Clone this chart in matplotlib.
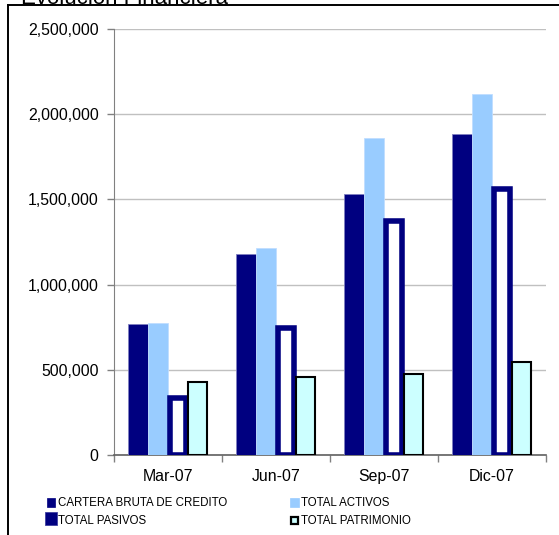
import numpy as np
import matplotlib
matplotlib.use('Agg')
import matplotlib.pyplot as plt
from matplotlib.patches import Rectangle
from matplotlib.lines import Line2D
from matplotlib.ticker import FuncFormatter, FixedLocator

plt.rcParams['font.family'] = ['Liberation Sans', 'DejaVu Sans']

# Data
periods = ['Mar-07', 'Jun-07', 'Sep-07', 'Dic-07']
cartera = [767000, 1178000, 1530000, 1882000]
activos = [775000, 1213000, 1859000, 2119000]
pasivos = [337000, 745000, 1373000, 1561000]
patrimonio = [428000, 458000, 474000, 546000]
series_names = ['CARTERA BRUTA DE CREDITO', 'TOTAL ACTIVOS',
                'TOTAL PASIVOS', 'TOTAL PATRIMONIO']
title = 'Evolución Financiera'

navy = '#000080'
light_blue = '#99CCFF'
light_cyan = '#CCFFFF'

W, H = 559, 535
fig = plt.figure(figsize=(W / 100, H / 100), dpi=100)

# outer chart frame and title
fig.add_artist(Line2D([8 / W, 8 / W], [0, 1 - 5 / H], color='black', lw=1.4,
                      transform=fig.transFigure))
fig.add_artist(Line2D([8 / W, 1], [1 - 5 / H, 1 - 5 / H], color='black', lw=1.4,
                      transform=fig.transFigure))
fig.text(21 / W, 1 - 3.5 / H, title, fontsize=16, va='baseline', ha='left')

ax = fig.add_axes([114 / W, 80 / H, 432 / W, 426 / H])

x = np.arange(len(periods))
bw = 0.185
ax.bar(x - 1.5 * bw, cartera, bw, color=navy, edgecolor='#8080C0', lw=0.6, zorder=3)
ax.bar(x - 0.5 * bw, activos, bw, color=light_blue, edgecolor='#C0DDFF', lw=0.6, zorder=3)
ax.bar(x + 0.5 * bw, pasivos, bw * 0.82, color='white', edgecolor=navy, lw=4.0, zorder=4)
ax.bar(x + 1.5 * bw, patrimonio, bw * 0.95, color=light_cyan, edgecolor='black', lw=1.5, zorder=5)

ax.set_xlim(-0.5, len(periods) - 0.5)
ax.set_ylim(0, 2500000)
ax.set_yticks(np.arange(0, 2500001, 500000))
ax.yaxis.set_major_formatter(FuncFormatter(lambda v, p: f'{int(v):,}'))
ax.yaxis.grid(True, color='#C0C0C0', lw=1.0, zorder=0)

ax.xaxis.set_major_locator(FixedLocator(np.arange(-0.5, len(periods), 1.0)))
ax.xaxis.set_minor_locator(FixedLocator(x))
ax.set_xticklabels([])
ax.set_xticklabels(periods, minor=True)
ax.tick_params(axis='x', which='major', length=5, color='#808080', width=1)
ax.tick_params(axis='x', which='minor', length=0, pad=10, labelsize=11.4)
ax.tick_params(axis='y', length=5, color='#808080', width=1, labelsize=11.4, pad=6)

for s in ['top', 'right']:
    ax.spines[s].set_visible(False)
ax.spines['left'].set_color('#808080')
ax.spines['bottom'].set_color('#606060')
ax.spines['bottom'].set_linewidth(1.2)

# legend
def px_rect(x0, y0, w, h, fc, ec, lw):
    fig.add_artist(Rectangle((x0 / W, 1 - (y0 + h) / H), w / W, h / H,
                             facecolor=fc, edgecolor=ec, lw=lw,
                             transform=fig.transFigure))

px_rect(47, 498, 8, 9, navy, navy, 0.5)
px_rect(290, 498, 9, 9, light_blue, light_blue, 0.5)
px_rect(45, 512, 12, 13, navy, '#4040A0', 0.6)
px_rect(291, 517, 7, 7, light_cyan, 'black', 1.6)

leg_fs = 8.3
fig.text(58 / W, 1 - 503 / H, series_names[0], fontsize=leg_fs, va='center')
fig.text(301 / W, 1 - 503 / H, series_names[1], fontsize=leg_fs, va='center')
fig.text(58 / W, 1 - 521 / H, series_names[2], fontsize=leg_fs, va='center')
fig.text(301 / W, 1 - 521 / H, series_names[3], fontsize=leg_fs, va='center')

fig.savefig('out.png', dpi=100)
